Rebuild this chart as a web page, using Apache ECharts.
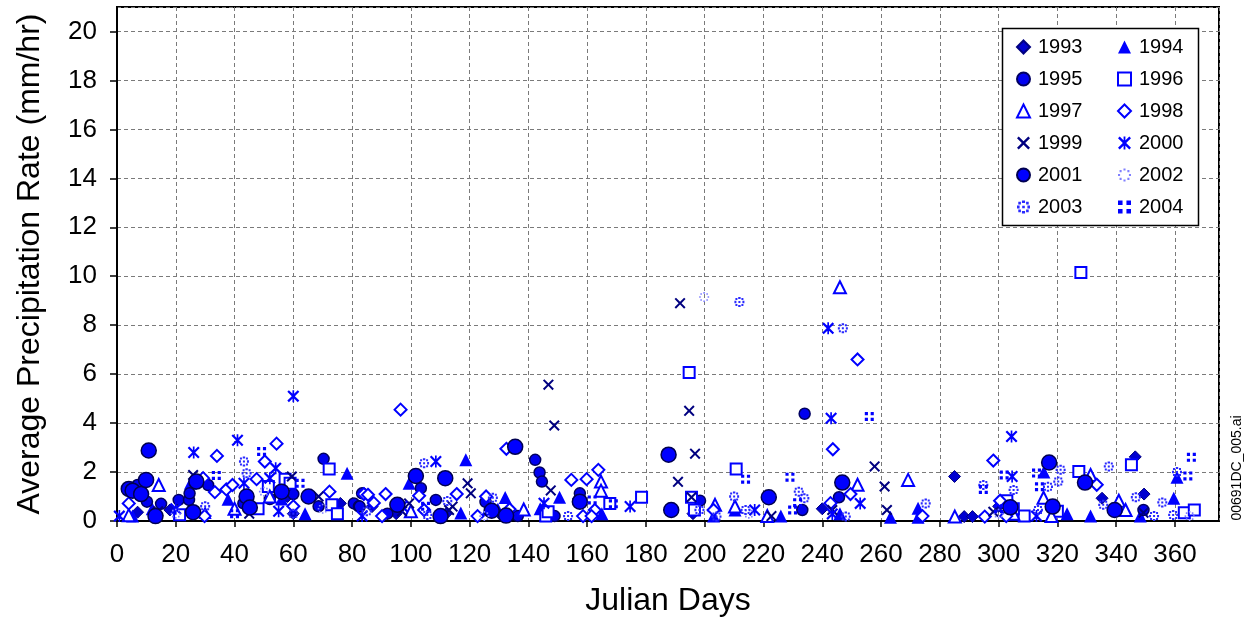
<!DOCTYPE html>
<html>
<head>
<meta charset="utf-8">
<script src="https://cdn.jsdelivr.net/npm/echarts@6/dist/echarts.min.js"></script>
<style>html,body{margin:0;padding:0;background:#fff;}#c{width:1247px;height:622px;}</style>
</head>
<body>
<div id="c"></div>
<script>
// ---- data: [Julian day, average precipitation rate mm/hr] ----
var xTicks = [0,20,40,60,80,100,120,140,160,180,200,220,240,260,280,300,320,340,360];
var yTicks = [0,2,4,6,8,10,12,14,16,18,20];
var years = ['1993','1994','1995','1996','1997','1998','1999','2000','2001','2002','2003','2004'];

var d1993 = [[76,0.72],[86.8,0.59],[7,0.36],[285,1.82],[288.3,0.18],[291.1,0.18],[346.5,2.62],[349.5,1.1],[335.2,0.93],[18,0.45],[60,0.3],[147,0.35],[157,0.9],[196,0.3],[58,1.0],[112,0.3],[240,0.5],[300,0.6],[95,0.3],[131,0.2]];
var d1994 = [[25,1.54],[37.8,0.89],[5.3,0.2],[78.3,1.95],[99.4,1.54],[118.7,2.5],[117,0.33],[126.2,0.48],[129.6,0.48],[132.1,0.96],[150.6,0.97],[210.3,0.45],[225.9,0.2],[263.2,0.15],[272.6,0.52],[272.6,0.15],[315.4,2.0],[323.3,0.3],[331.3,0.2],[348.2,0.2],[359.6,0.93],[360.7,1.79],[12,0.5],[46,0.6],[56,0.9],[64,0.3],[144,0.5],[165,0.3],[203,0.2],[246,0.3],[30,0.35]];
var d1995 = [[7,1.47],[10.2,0.79],[31,1.47],[21,0.86],[24.5,0.86],[24.7,1.13],[43,0.72],[68.6,0.6],[70.3,2.54],[80.6,0.72],[82.3,0.6],[83.4,1.13],[82.6,0.59],[103.4,1.34],[108.5,0.86],[125.4,0.78],[136.4,0.2],[142.3,2.5],[143.8,1.98],[144.6,1.61],[148.9,0.2],[157.5,1.13],[198.4,0.83],[233.2,0.45],[234,4.38],[245.7,0.97],[349.3,0.45],[15,0.7],[52,0.9],[60,1.1],[92,0.3]];
var d1996 = [[21.3,0.26],[51.5,1.41],[57.2,1.71],[58.9,1.54],[72.2,2.12],[73.1,0.66],[145.9,0.2],[146.7,0.38],[167.7,0.72],[178.5,0.97],[194.7,6.07],[195.5,0.97],[196.5,0.45],[210.7,2.12],[302.8,0.83],[308.7,0.2],[327.3,2.02],[328,10.15],[345.2,2.3],[363.2,0.34],[366.6,0.45],[305,0.5],[320,0.4],[48,0.5],[75,0.3]];
var d1997 = [[14.2,1.47],[4,0.24],[138.4,0.47],[164.7,1.61],[164.7,1.24],[203.5,0.66],[210.3,0.59],[221.3,0.2],[246,9.55],[252,1.48],[269.2,1.68],[285.1,0.18],[315.3,0.95],[318,0.2],[331.3,1.88],[340.9,0.83],[343.2,0.45],[40,0.5],[100,0.4],[305,0.3],[52,1.0]];
var d1998 = [[4,0.72],[29.3,1.75],[33.3,1.18],[34,2.66],[37.2,1.29],[39.3,1.47],[47.5,1.71],[50.3,2.43],[54.3,3.16],[72.3,1.2],[84,1.1],[85.4,1.07],[87.4,0.74],[91.4,1.1],[90.2,0.2],[96.5,4.55],[102.8,1.03],[104.5,0.45],[115.6,1.1],[125.6,1.0],[132.5,2.95],[133.6,0.48],[154.6,1.68],[159.8,1.71],[163.8,2.09],[162.6,0.45],[158.6,0.2],[161.5,0.2],[203,0.45],[242.8,0.73],[243.6,2.93],[249.6,1.1],[252,6.6],[274.1,0.2],[295.3,0.18],[298.2,2.47],[300.5,0.83],[302.6,0.2],[333.4,1.48],[29.8,0.2],[122.7,0.2],[60,0.6]];
var d1999 = [[25.9,1.88],[59.5,1.82],[68.6,1.0],[99.4,0.72],[113,0.45],[114.2,0.59],[119.3,1.54],[120.4,1.13],[146.8,5.57],[147.6,1.25],[148.8,3.9],[190.9,1.6],[191.6,8.9],[194.7,4.5],[195.5,0.97],[196.7,2.75],[222.7,0.2],[243.4,0.45],[257.8,2.23],[261.2,1.41],[262,0.45],[298.2,0.38],[349.3,0.34],[14,0.4],[45,0.3],[97,0.4]];
var d2000 = [[0.8,0.2],[26.1,2.8],[41,3.3],[43.2,1.54],[52,1.75],[54,2.16],[60,5.1],[83.4,0.2],[108.5,2.43],[145.3,0.73],[174.6,0.59],[217,0.45],[242,7.87],[243,4.2],[243.4,0.29],[252.9,0.72],[304.4,3.45],[304.6,1.82],[312.9,0.2],[20,0.5],[55,0.4],[97,0.6]];
var d2001 = [[4,1.31],[5.3,1.24],[8.2,1.1],[9.9,1.68],[10.8,2.88],[13.1,0.2],[25.9,0.36],[27,1.61],[44.1,1.0],[45.2,0.55],[56,1.2],[65.2,1.0],[95.4,0.66],[101.7,1.84],[110.1,0.2],[111.7,1.75],[127.5,0.42],[132.4,0.22],[135.5,3.03],[157.5,0.79],[187.7,2.71],[188.6,0.45],[221.8,0.97],[246.8,1.57],[304,0.56],[317.2,2.39],[318.4,0.59],[329.4,1.57],[339.5,0.45]];
var d2002 = [[199.8,9.15],[20,0.3],[70,0.5],[125,0.2],[215,0.3],[300,0.3],[365,0.2],[50,1.2]];
var d2003 = [[43.2,2.43],[44.1,1.95],[104.5,2.36],[105.6,0.25],[112.4,0.82],[127.9,0.95],[153.5,0.2],[198.2,0.45],[204,0.18],[210,1.0],[213.9,0.45],[211.8,8.95],[232,1.2],[233.9,0.93],[247,7.87],[248,0.18],[275.2,0.72],[294.8,1.47],[305.1,1.27],[313.4,0.45],[316.8,1.4],[320.3,1.61],[321.1,2.09],[335.6,0.66],[337.5,2.23],[346.7,0.97],[352.9,0.2],[355.7,0.76],[359.4,0.25],[360.7,2.0],[30,0.6],[60,0.3],[85,0.4]];
var d2004 = [[33.8,1.86],[49.2,2.84],[62.3,1.54],[161.7,0.86],[168.9,0.7],[213.9,1.71],[229,1.79],[231.6,0.75],[229.9,0.45],[256,4.27],[294.8,1.29],[301.9,1.88],[312.9,1.96],[313.9,1.4],[364.4,1.84],[365.6,2.6],[40,0.3],[105,0.6],[300,0.5]];

// ---- marker shapes ----
var pX = 'path://M0,1.3L1.3,0L5,3.7L8.7,0L10,1.3L6.3,5L10,8.7L8.7,10L5,6.3L1.3,10L0,8.7L3.7,5Z';
var pStar = 'path://M0,1.3L1.3,0L5,3.7L8.7,0L10,1.3L6.3,5L10,8.7L8.7,10L5,6.3L1.3,10L0,8.7L3.7,5Z M4.3,0L5.7,0L5.7,10L4.3,10Z';
var p2004 = 'path://M0,0h3.5v3.5h-3.5z M6.5,0h3.5v3.5h-3.5z M0,6.5h3.5v3.5h-3.5z M6.5,6.5h3.5v3.5h-3.5z';
var p2002 = 'path://M4.2,0h1.6v1.6h-1.6z M4.2,8.4h1.6v1.6h-1.6z M0,4.2h1.6v1.6h-1.6z M8.4,4.2h1.6v1.6h-1.6z M1.2,1.2h1.6v1.6h-1.6z M7.2,1.2h1.6v1.6h-1.6z M1.2,7.2h1.6v1.6h-1.6z M7.2,7.2h1.6v1.6h-1.6z';
var p2003 = 'path://M3.8,0h2.4v2h-2.4z M3.8,8h2.4v2h-2.4z M0,3.8h2v2.4h-2z M8,3.8h2v2.4h-2z M1,1h2v2h-2z M7,1h2v2h-2z M1,7h2v2h-2z M7,7h2v2h-2z M4,4h2v2h-2z';

var styles = {
  '1993': {symbol:'diamond', size:12, item:{color:'#0000d0', borderColor:'#000080', borderWidth:1}},
  '1994': {symbol:'triangle', size:13, item:{color:'#0000ff'}},
  '1995': {symbol:'circle', size:11, item:{color:'#0000f0', borderColor:'#000060', borderWidth:1.5}},
  '1996': {symbol:'rect', size:11, item:{color:'#ffffff', borderColor:'#0000ff', borderWidth:2}},
  '1997': {symbol:'triangle', size:12, item:{color:'#ffffff', borderColor:'#0000ff', borderWidth:2}},
  '1998': {symbol:'diamond', size:12, item:{color:'#ffffff', borderColor:'#0000ff', borderWidth:2}},
  '1999': {symbol:pX, size:11, item:{color:'#000080'}},
  '2000': {symbol:pStar, size:12, item:{color:'#0000ff'}},
  '2001': {symbol:'circle', size:15, item:{color:'#0000ff', borderColor:'#000050', borderWidth:1.5}},
  '2002': {symbol:p2002, size:10, item:{color:'#8080ff'}},
  '2003': {symbol:p2003, size:10, item:{color:'#2a2aff'}},
  '2004': {symbol:p2004, size:9, item:{color:'#0000ff'}}
};
var dataMap = {'1993':d1993,'1994':d1994,'1995':d1995,'1996':d1996,'1997':d1997,'1998':d1998,'1999':d1999,'2000':d2000,'2001':d2001,'2002':d2002,'2003':d2003,'2004':d2004};

var series = years.map(function(y){
  var s = styles[y];
  var it = Object.assign({opacity:1}, s.item);
  return {name:y, type:'scatter', data:dataMap[y], symbol:s.symbol, symbolSize:s.size, itemStyle:it, emphasis:{disabled:true}, animation:false};
});

var FONT = 'Liberation Sans, Arial, sans-serif';
var legendCommon = {orient:'vertical', itemWidth:13, itemHeight:13, itemGap:10, selectedMode:false,
  textStyle:{fontSize:20, lineHeight:22, color:'#000', fontFamily:FONT, padding:[0,0,0,3]}, z:10};

var chart = echarts.init(document.getElementById('c'), null, {renderer:'canvas'});
chart.setOption({
  animation:false,
  textStyle:{fontFamily:FONT},
  grid:{left:117, right:28, top:7, bottom:101, show:true, borderColor:'#000', borderWidth:2, backgroundColor:'transparent'},
  xAxis:{type:'value', min:0, max:375, interval:20,
    name:'Julian Days', nameLocation:'middle', nameGap:64, nameTextStyle:{fontSize:32, color:'#000', fontFamily:FONT},
    axisLine:{show:true, lineStyle:{color:'#000', width:2}},
    axisTick:{show:true, length:6, lineStyle:{color:'#000', width:1.5}},
    axisLabel:{fontSize:26, color:'#000', margin:21, fontFamily:FONT, showMaxLabel:false,
      formatter:function(v){return xTicks.indexOf(v)>=0 ? String(v) : '';}},
    splitLine:{show:true, lineStyle:{color:'#7a7a7a', width:1, type:[4,3]}}
  },
  yAxis:{type:'value', min:0, max:21, interval:2,
    name:'Average Precipitation Rate (mm/hr)', nameLocation:'middle', nameGap:71, nameTextStyle:{fontSize:32, color:'#000', fontFamily:FONT},
    axisLine:{show:true, lineStyle:{color:'#000', width:2}},
    axisTick:{show:true, length:7, lineStyle:{color:'#000', width:1.5}},
    axisLabel:{fontSize:26, color:'#000', margin:20, fontFamily:FONT, showMaxLabel:false,
      formatter:function(v){return yTicks.indexOf(v)>=0 ? String(v) : '';}},
    splitLine:{show:true, lineStyle:{color:'#7a7a7a', width:1, type:[4,3]}}
  },
  legend:[
    Object.assign({}, legendCommon, {left:1011, top:31, data:['1993','1995','1997','1999','2001','2003']}),
    Object.assign({}, legendCommon, {left:1112, top:31, data:['1994','1996','1998','2000','2002','2004']})
  ],
  graphic:[
    {type:'rect', z:5, shape:{x:1002.5, y:28.5, width:196, height:197}, style:{fill:'#fff', stroke:'#000', lineWidth:1.5}},
    {type:'text', z:5, x:1237, y:468, rotation:Math.PI/2, style:{text:'00691DC_005.ai', fontSize:14, fontFamily:FONT, fill:'#000', align:'center', verticalAlign:'middle'}}
  ],
  series:series
});
</script>
</body>
</html>
